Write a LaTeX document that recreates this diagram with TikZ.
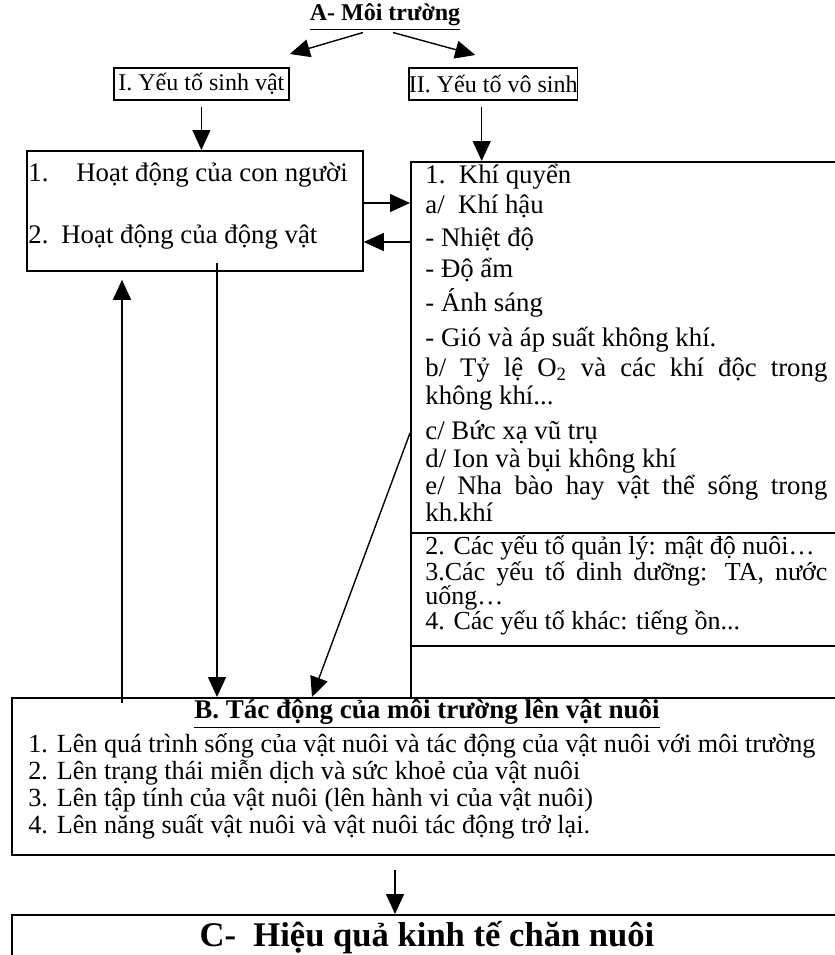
\documentclass[tikz,border=0pt]{standalone}
\usepackage{fontspec}
\setmainfont{Liberation Serif}
\usetikzlibrary{arrows.meta,positioning}

\begin{document}
\begin{tikzpicture}[x=0.5pt,y=-0.5pt]
\tikzstyle{box}=[draw, line width=0.9pt, inner sep=0pt]
\tikzstyle{head}=[box, anchor=north west, minimum height=16pt, font=\fontsize{12}{14}\selectfont]
\tikzstyle{txt}=[anchor=west, inner sep=0pt, text height=8.5pt, text depth=2.5pt, font=\fontsize{13.4}{15}\selectfont]
\tikzstyle{item}=[txt, font=\fontsize{13.1}{15}\selectfont]
\tikzstyle{other}=[txt, font=\fontsize{13}{15}\selectfont]
\tikzstyle{title}=[inner sep=0pt, font=\fontsize{13.5}{15}\selectfont\bfseries]
\tikzstyle{connect}=[-{Triangle[length=10pt,width=9pt]}, line width=0.7pt]

\useasboundingbox (0,0) rectangle (835,955);
\clip (0,0) rectangle (835,955);
\fill[white] (0,0) rectangle (835,955);

  % A - the two groups of factors
  \node[title, font=\fontsize{12}{14}\selectfont\bfseries] (moitruong) at (385,17) {\underline{A- Môi trường}};
  \node[head, minimum width=87.5pt] (sinhvat) at (113,67) {I. Yếu tố sinh vật};
  \node[head, minimum width=83.5pt] (vosinh)  at (408,67) {II. Yếu tố vô sinh};

  % boxes
  \node[box, anchor=north west, minimum width=168pt, minimum height=60pt]   (hoatdong) at (26,150)  {};
  \node[box, anchor=north west, minimum width=245pt, minimum height=268pt]  (yeutovs)  at (410,161) {};
  \node[box, anchor=north west, minimum width=445pt, minimum height=78.5pt] (tacdong)  at (11,697)  {};
  \node[box, anchor=north west, minimum width=445pt, minimum height=40pt]   (hieuqua)  at (11,914)  {};

  \node[txt] (connguoi) at (28,175) {\makebox[24pt][l]{1.}Hoạt động của con người};
  \node[txt] (dongvat)  at (28,237) {\makebox[16.5pt][l]{2.}Hoạt động của động vật};

  \node[txt] (khiquyen)   at (425,177) {1.~~Khí quyển};
  \node[txt] (khihau)     at (425,207) {a/~~Khí hậu};
  \node[txt] (nhietdo)    at (425,240) {- Nhiệt độ};
  \node[txt] (doam)       at (425,271) {- Độ ẩm};
  \node[txt] (anhsang)    at (425,305) {- Ánh sáng};
  \node[txt] (gio)        at (425,340) {- Gió và áp suất không khí.};
  \node[txt] (tyle)       at (425,370) {\makebox[201pt][s]{b/ Tỷ lệ O\textsubscript{2} và các khí độc trong}};
  \node[txt] (tyle2)      at (425,398) {không khí...};
  \node[txt] (bucxa)      at (425,433) {c/ Bức xạ vũ trụ};
  \node[txt] (ion)        at (425,461) {d/ Ion và bụi không khí};
  \node[txt] (nhabao)     at (425,488) {\makebox[201pt][s]{e/ Nha bào hay vật thể sống trong}};
  \node[txt] (nhabao2)    at (425,515) {kh.khí};
  \node[other] (quanly)     at (425,548) {2. Các yếu tố quản lý: mật độ nuôi…};
  \node[other] (dinhduong)  at (425,574) {\makebox[201pt][s]{3.Các yếu tố dinh dưỡng: TA, nước}};
  \node[other] (dinhduong2) at (425,598) {uống…};
  \node[other] (khac)       at (425,623) {4. Các yếu tố khác: tiếng ồn...};

  \draw[line width=0.9pt] (yeutovs.west |- 0,533) -- (yeutovs.east |- 0,533);
  \draw[line width=0.9pt] (yeutovs.west |- 0,646) -- (yeutovs.east |- 0,646);

  % B - effects on livestock
  \node[title] (tacdongtitle) at (427,714) {\underline{B. Tác động của môi trường lên vật nuôi}};
  \node[item] (song)     at (28,746) {1. Lên quá trình sống của vật nuôi và tác động của vật nuôi với môi trường};
  \node[item] (mien)     at (28,773) {2. Lên trạng thái miễn dịch và sức khoẻ của vật nuôi};
  \node[item] (taptinh)  at (28,800) {3. Lên tập tính của vật nuôi (lên hành vi của vật nuôi)};
  \node[item] (nangsuat) at (28,827) {4. Lên năng suất vật nuôi và vật nuôi tác động trở lại.};

  % C
  \node[title, font=\fontsize{17.3}{19}\selectfont\bfseries] (hieuquatext) at (427,938) {C-\ \ Hiệu quả kinh tế chăn nuôi};

  % arrows
  \draw[connect] ([xshift=-11pt,yshift=-1pt]moitruong.south) -- ([yshift=6.5pt]sinhvat.north east);
  \draw[connect] ([xshift=4pt,yshift=-1pt]moitruong.south) -- ([xshift=-9pt,yshift=6pt]vosinh.north);
  \draw[connect] ([yshift=-3pt]sinhvat.south) -- (sinhvat.south |- hoatdong.north);
  \draw[connect] ([xshift=-5.75pt,yshift=-3pt]vosinh.south) -- ([xshift=-5.75pt]vosinh.south |- yeutovs.north);

  \draw[connect] ([yshift=2pt]hoatdong.east |- khihau) -- ([yshift=2pt]yeutovs.west |- khihau);
  \draw[connect] ([yshift=-1pt]yeutovs.west |- nhietdo) -- ([yshift=-1pt]hoatdong.east |- nhietdo);

  \coordinate (xuong) at (217,263);
  \coordinate (len)   at (122,703);
  \coordinate (cheo)  at (312,697);
  \coordinate (bc)    at (395,870);
  \draw[connect] (xuong) -- (xuong |- tacdong.north);
  \draw[connect] (len) -- ([yshift=-4pt]len |- hoatdong.south);
  \draw[connect] (yeutovs.west |- bucxa) -- (cheo);
  \draw[connect] (bc) -- (bc |- hieuqua.north);

\end{tikzpicture}
\end{document}
